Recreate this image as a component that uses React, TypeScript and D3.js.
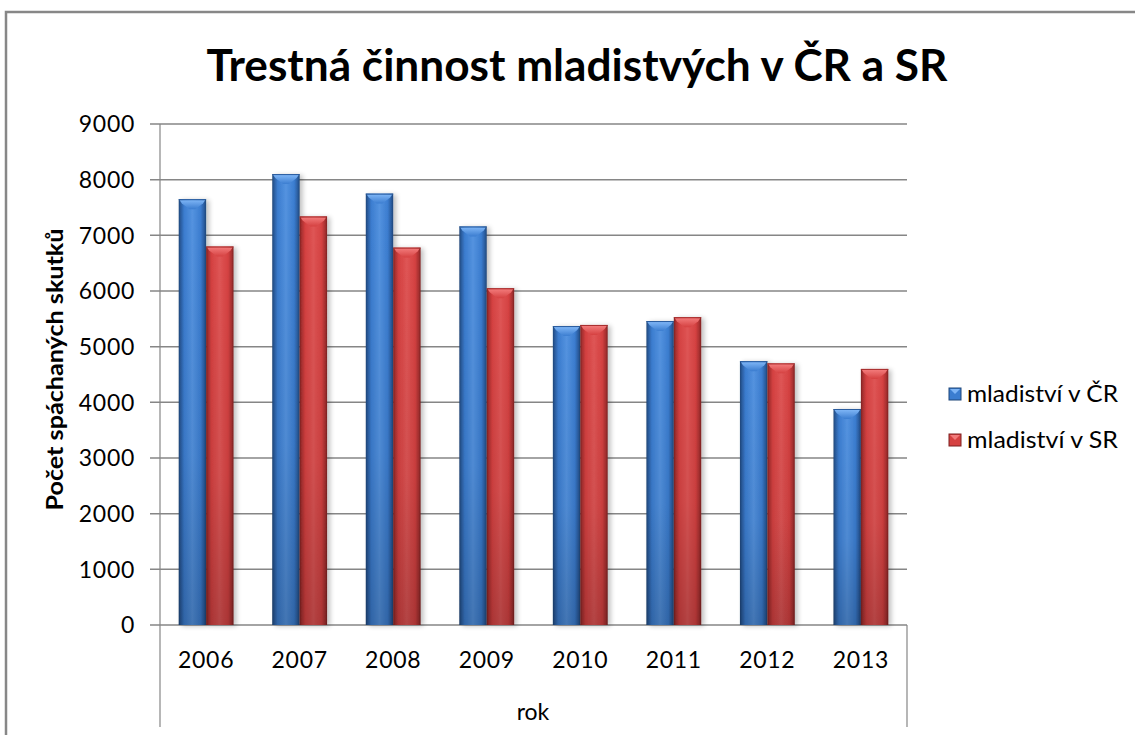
import React from "react";
import * as d3 from "d3";

const years = ["2006", "2007", "2008", "2009", "2010", "2011", "2012", "2013"];
const seriesNames = ["mladiství v ČR", "mladiství v SR"];
const crValues = [7650, 8100, 7750, 7160, 5370, 5460, 4740, 3880];
const srValues = [6800, 7340, 6780, 6050, 5390, 5530, 4700, 4600];
const yTicks = [0, 1000, 2000, 3000, 4000, 5000, 6000, 7000, 8000, 9000];
const titleText = "Trestná činnost mladistvých v ČR a SR";
const yTitle = "Počet spáchaných skutků";
const xTitle = "rok";

const W = 1135;
const H = 735;
const plot = { left: 160, right: 907, top: 124, bottom: 625 };
const FONT = "Lato, 'Open Sans', sans-serif";

const palettes = [
  { id: "b", main: "#3b7dd0", light: "#5493e0", dark: "#2a5c9e", edge: "#1f4679", top: "#7db4f5" },
  { id: "r", main: "#d54141", light: "#df5555", dark: "#a83030", edge: "#7d2020", top: "#f27a7a" },
];

export default function App() {
  const x0 = d3.scaleBand<string>().domain(years).range([plot.left, plot.right]).paddingInner(0.414).paddingOuter(0.2);
  const x1 = d3.scaleBand<string>().domain(seriesNames).range([0, x0.bandwidth()]).padding(0);
  const y = d3.scaleLinear().domain([0, 9000]).range([plot.bottom, plot.top]);
  const series = [crValues, srValues];

  return (
    <svg width={W} height={H} style={{ position: "fixed", left: 0, top: 0, background: "#fff" }} fontFamily={FONT}>
      <defs>
        {palettes.map((p) => (
          <React.Fragment key={p.id}>
            <linearGradient id={`h-${p.id}`} x1="0" x2="1" y1="0" y2="0">
              <stop offset="0" stopColor={p.edge} />
              <stop offset="0.07" stopColor={p.dark} />
              <stop offset="0.2" stopColor={p.main} />
              <stop offset="0.5" stopColor={p.light} />
              <stop offset="0.8" stopColor={p.main} />
              <stop offset="0.93" stopColor={p.dark} />
              <stop offset="1" stopColor={p.edge} />
            </linearGradient>
            <linearGradient id={`t-${p.id}`} x1="0" x2="0" y1="0" y2="1">
              <stop offset="0" stopColor={p.top} />
              <stop offset="1" stopColor={p.main} />
            </linearGradient>
          </React.Fragment>
        ))}
        <linearGradient id="vshade" x1="0" x2="0" y1="0" y2="1">
          <stop offset="0" stopColor="#000" stopOpacity={0} />
          <stop offset="0.6" stopColor="#000" stopOpacity={0.06} />
          <stop offset="1" stopColor="#000" stopOpacity={0.2} />
        </linearGradient>
        <filter id="shadow" x="-30%" y="-5%" width="160%" height="110%">
          <feGaussianBlur in="SourceAlpha" stdDeviation="2.5" />
          <feOffset dx="3" dy="1" result="b" />
          <feComponentTransfer>
            <feFuncA type="linear" slope="0.25" />
          </feComponentTransfer>
          <feMerge>
            <feMergeNode />
            <feMergeNode in="SourceGraphic" />
          </feMerge>
        </filter>
      </defs>

      {/* chart border */}
      <rect x={6} y={12} width={W + 20} height={H + 20} fill="#fff" stroke="#878787" strokeWidth={2.5} />

      {/* title */}
      <text x={577} y={81} textAnchor="middle" fontSize={44} fontWeight="bold" fill="#000" textLength={741} lengthAdjust="spacingAndGlyphs">
        {titleText}
      </text>

      {/* gridlines & y ticks */}
      {yTicks.map((t) => (
        <g key={t}>
          <line x1={plot.left - 10} x2={plot.right} y1={y(t)} y2={y(t)} stroke="#868686" strokeWidth={1.5} />
          <text x={135} y={y(t)} dy="0.36em" textAnchor="end" fontSize={23} letterSpacing={0.7} fill="#000">
            {t}
          </text>
        </g>
      ))}
      <line x1={plot.left} x2={plot.left} y1={plot.top} y2={727} stroke="#868686" strokeWidth={1.2} />
      <line x1={plot.right} x2={plot.right} y1={plot.bottom} y2={727} stroke="#868686" strokeWidth={1.2} />

      {/* bars */}
      {years.map((yr, i) => (
        <g key={yr} transform={`translate(${x0(yr)},0)`}>
          {series.map((vals, s) => {
            const p = palettes[s];
            const bx = x1(seriesNames[s])!;
            const bw = x1.bandwidth();
            const top = y(vals[i]);
            const h = plot.bottom - top;
            return (
              <g key={s}>
                <rect x={bx} y={top} width={bw} height={h} fill={`url(#h-${p.id})`} filter="url(#shadow)" />
                <rect x={bx} y={top} width={bw} height={h} fill="url(#vshade)" />
                <polygon
                  points={`${bx + 1},${top + 1} ${bx + bw - 1},${top + 1} ${bx + bw - 3},${top + 4} ${bx + bw / 2 + 3},${top + 10} ${bx + bw / 2 - 3},${top + 10} ${bx + 3},${top + 4}`}
                  fill={`url(#t-${p.id})`}
                />
                <line x1={bx} x2={bx + bw} y1={top + 0.5} y2={top + 0.5} stroke={p.dark} strokeWidth={1} />
              </g>
            );
          })}
        </g>
      ))}

      {/* x labels */}
      {years.map((yr) => (
        <text key={yr} x={x0(yr)! + x0.bandwidth() / 2} y={668} textAnchor="middle" fontSize={23} letterSpacing={0.7} fill="#000">
          {yr}
        </text>
      ))}
      <text x={533} y={720} textAnchor="middle" fontSize={23} fill="#000">
        {xTitle}
      </text>

      {/* y title */}
      <text transform={`translate(63,${(plot.top + plot.bottom) / 2 - 5}) rotate(-90)`} textAnchor="middle" fontSize={23} fontWeight="bold" fill="#000" textLength={282} lengthAdjust="spacingAndGlyphs">
        {yTitle}
      </text>

      {/* legend */}
      {seriesNames.map((n, s) => {
        const p = palettes[s];
        const ly = 394 + s * 46;
        return (
          <g key={n}>
            <rect x={949} y={ly - 6} width={12} height={12} fill={p.main} stroke={p.edge} strokeWidth={1} />
            <polygon points={`${950},${ly - 5} ${960},${ly - 5} ${955},${ly}`} fill={p.top} />
            <text x={967} y={ly} dy="0.36em" fontSize={23} fill="#000" textLength={151} lengthAdjust="spacingAndGlyphs">
              {n}
            </text>
          </g>
        );
      })}
    </svg>
  );
}
